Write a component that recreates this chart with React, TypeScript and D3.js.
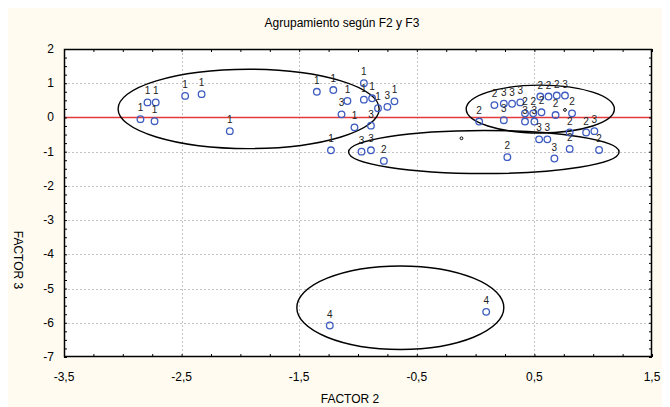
import React, { useEffect, useRef } from 'react';
import * as d3 from 'd3';

const chartTitle = 'Agrupamiento según F2 y F3';
const xTitle = 'FACTOR 2';
const yTitle = 'FACTOR 3';

const xTickValues = [-3.5, -2.5, -1.5, -0.5, 0.5, 1.5];
const yTickValues = [2, 1, 0, -1, -2, -3, -4, -5, -6, -7];

// observations: factor 2, factor 3 and group label
const factor2 = [
  -2.85, -2.79, -2.72, -2.73, -2.47, -2.33, -2.09, -1.35, -1.21, -1.09, -0.95, -0.95, -0.88, -0.83, -0.69, -1.03, -1.23,
  -1.14, -0.75, -0.89, -0.97, -0.89, 0.24, 0.24, 0.31, 0.38, 0.42, 0.5, 0.76, 1.01, 0.54, 0.61, 0.67,
  0.03, 0.16, 0.42, 0.49, 0.56, 0.55, 0.62, 0.69, 0.68, 0.82, 0.8, 0.94, 0.8, 1.05, 0.27, -0.78,
  -1.24, 0.09,
];
const factor3 = [
  -0.05, 0.44, 0.44, -0.11, 0.63, 0.68, -0.4, 0.75, 0.8, 0.48, 1.0, 0.52, 0.56, 0.27, 0.47, -0.29, -0.96,
  0.09, 0.31, -0.24, -1.0, -0.96, 0.4, -0.08, 0.4, 0.44, -0.12, -0.12, 0.64, -0.4, -0.64, -0.64, -1.2,
  -0.12, 0.36, 0.12, 0.12, 0.15, 0.61, 0.61, 0.64, 0.07, 0.12, -0.44, -0.44, -0.92, -0.95, -1.16, -1.27,
  -6.08, -5.68,
];
const groupLabel = [
  '1', '1', '1', '1', '1', '1', '1', '1', '1', '1', '1', '1', '1', '1', '1', '1', '1',
  '3', '3', '3', '3', '3', '3', '3', '3', '3', '3', '3', '3', '3', '3', '3', '3',
  '2', '2', '2', '2', '2', '2', '2', '2', '2', '2', '2', '2', '2', '2', '2', '2',
  '4', '4',
];

// cluster ellipses (centre and half-axes in data units)
const ellipseF2 = [-1.93, 0.55, 0.07, -0.64];
const ellipseF3 = [0.25, 0.245, -1.01, -5.56];
const ellipseRx = [1.11, 0.63, 1.15, 0.88];
const ellipseRy = [1.16, 0.7, 0.63, 1.22];

// small marks
const markF2 = [-0.12, 0.76];
const markF3 = [-0.61, 0.22];

const fmt = (v: number) => String(v).replace('.', ',');

export default function App() {
  const ref = useRef<SVGSVGElement>(null);

  useEffect(() => {
    const width = 662;
    const height = 399;
    const margin = { top: 41, right: 18, bottom: 50, left: 56 };
    const font = '"Liberation Sans", Arial, sans-serif';

    const svg = d3.select(ref.current);
    svg.selectAll('*').remove();
    svg.attr('width', width).attr('height', height).style('display', 'block');

    svg.append('rect').attr('width', width).attr('height', height).attr('fill', '#fffbf0');

    const x = d3.scaleLinear().domain([-3.5, 1.5]).range([margin.left, width - margin.right]);
    const y = d3.scaleLinear().domain([-7, 2]).range([height - margin.bottom, margin.top]);
    const [L, R] = x.range();
    const [B, T] = y.range();

    svg.append('rect').attr('x', L).attr('y', T).attr('width', R - L).attr('height', B - T).attr('fill', '#fff');

    // dashed grid
    const grid = svg.append('g').attr('stroke', '#c4c4c4').attr('stroke-dasharray', '2,2').attr('stroke-width', 1);
    grid.selectAll('.gx').data(xTickValues.slice(1, -1)).enter().append('line')
      .attr('x1', (d) => Math.round(x(d)) + 0.5).attr('x2', (d) => Math.round(x(d)) + 0.5)
      .attr('y1', T).attr('y2', B);
    grid.selectAll('.gy').data(yTickValues.slice(1, -1)).enter().append('line')
      .attr('y1', (d) => Math.round(y(d)) + 0.5).attr('y2', (d) => Math.round(y(d)) + 0.5)
      .attr('x1', L).attr('x2', R);

    // zero line
    svg.append('line')
      .attr('x1', L).attr('x2', R)
      .attr('y1', Math.round(y(0)) + 0.5).attr('y2', Math.round(y(0)) + 0.5)
      .attr('stroke', '#e23b3b').attr('stroke-width', 1.3);

    // ellipses
    svg.append('g').selectAll('ellipse').data(ellipseF2).enter().append('ellipse')
      .attr('cx', (d) => x(d))
      .attr('cy', (d, i) => y(ellipseF3[i]))
      .attr('rx', (d, i) => x(ellipseRx[i]) - x(0))
      .attr('ry', (d, i) => y(0) - y(ellipseRy[i]))
      .attr('fill', 'none').attr('stroke', '#000').attr('stroke-width', 1.4);

    // points
    const pts = svg.append('g');
    pts.selectAll('circle').data(factor2).enter().append('circle')
      .attr('cx', (d) => x(d))
      .attr('cy', (d, i) => y(factor3[i]))
      .attr('r', 3.3)
      .attr('fill', 'none').attr('stroke', '#3d5cbf').attr('stroke-width', 1.3);
    pts.selectAll('text').data(factor2).enter().append('text')
      .attr('x', (d) => x(d))
      .attr('y', (d, i) => y(factor3[i]) - 8)
      .attr('text-anchor', 'middle')
      .attr('font-family', font).attr('font-size', 10).attr('fill', '#222')
      .text((d, i) => groupLabel[i]);

    svg.append('g').selectAll('circle').data(markF2).enter().append('circle')
      .attr('cx', (d) => x(d)).attr('cy', (d, i) => y(markF3[i])).attr('r', 1.4)
      .attr('fill', 'none').attr('stroke', '#000').attr('stroke-width', 1);

    // inward ticks on all four sides
    const minorX = d3.range(-3.5, 1.501, 0.25);
    const minorY = d3.range(-7, 2.001, 0.25);
    const addAxis = (axis: any, tx: number, ty: number) =>
      svg.append('g').attr('transform', `translate(${tx},${ty})`).call(axis)
        .call((g: any) => g.select('.domain').remove())
        .call((g: any) => g.selectAll('line').attr('stroke', '#000'));
    addAxis(d3.axisBottom(x).tickValues(minorX).tickSize(-3).tickFormat(() => ''), 0, B);
    addAxis(d3.axisTop(x).tickValues(minorX).tickSize(-3).tickFormat(() => ''), 0, T);
    addAxis(d3.axisLeft(y).tickValues(minorY).tickSize(-3).tickFormat(() => ''), L, 0);
    addAxis(d3.axisRight(y).tickValues(minorY).tickSize(-3).tickFormat(() => ''), R, 0);

    svg.append('rect').attr('x', L + 0.5).attr('y', T + 0.5).attr('width', R - L - 1).attr('height', B - T - 1)
      .attr('fill', 'none').attr('stroke', '#000').attr('stroke-width', 1.5);

    // tick labels
    svg.append('g').selectAll('text').data(xTickValues).enter().append('text')
      .attr('x', (d) => x(d)).attr('y', B + 24)
      .attr('text-anchor', 'middle')
      .attr('font-family', font).attr('font-size', 12).attr('fill', '#000')
      .text((d) => fmt(d));
    svg.append('g').selectAll('text').data(yTickValues).enter().append('text')
      .attr('x', L - 10).attr('y', (d) => y(d) + 4)
      .attr('text-anchor', 'end')
      .attr('font-family', font).attr('font-size', 12).attr('fill', '#000')
      .text((d) => fmt(d));

    // titles
    svg.append('text').attr('x', 334).attr('y', 19).attr('text-anchor', 'middle')
      .attr('font-family', font).attr('font-size', 12).attr('fill', '#000').text(chartTitle);
    svg.append('text').attr('x', 342).attr('y', 395).attr('text-anchor', 'middle')
      .attr('font-family', font).attr('font-size', 12).attr('fill', '#000').text(xTitle);
    svg.append('text').attr('transform', 'translate(10,252) rotate(90)')
      .attr('text-anchor', 'middle').attr('dominant-baseline', 'central')
      .attr('font-family', font).attr('font-size', 12).attr('fill', '#000').text(yTitle);
  }, []);

  return <svg ref={ref}></svg>;
}
